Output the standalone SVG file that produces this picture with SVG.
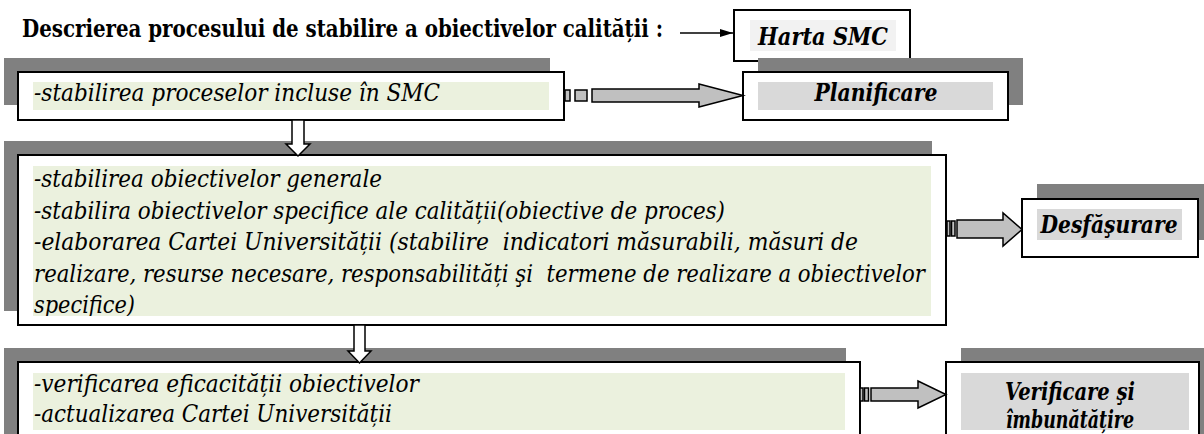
<svg xmlns="http://www.w3.org/2000/svg" width="1204" height="434" viewBox="0 0 1204 434">
<style>
.title{font-family:'DejaVu Serif Condensed','DejaVu Serif',serif;font-stretch:condensed;font-weight:bold;font-size:24px;fill:#000}
.it{font-family:'DejaVu Serif Condensed','DejaVu Serif',serif;font-stretch:condensed;font-style:italic;font-size:24.5px;fill:#000;white-space:pre}
.lbl{font-family:'DejaVu Serif Condensed','DejaVu Serif',serif;font-stretch:condensed;font-style:italic;font-weight:bold;font-size:24.5px;fill:#000;text-anchor:middle}
.shadow{fill:#808080}
.box{fill:#fff;stroke:#000;stroke-width:2}
.green{fill:#ebf1de}
.hl{fill:#d9d9d9}
.hl2{fill:#f2f2f2}
.blk{fill:#c0c0c0;stroke:#000;stroke-width:1.5;stroke-linejoin:miter}
.dn{fill:#fff;stroke:#000;stroke-width:1.5}
</style>
<defs>
<marker id="ah" markerWidth="14" markerHeight="10" refX="13" refY="5" orient="auto" markerUnits="userSpaceOnUse">
<path d="M0,1 L13,5 L0,9 Z" fill="#000"/>
</marker>
<clipPath id="c2"><rect x="33" y="166" width="898" height="150"/></clipPath>
<clipPath id="c3"><rect x="33" y="373" width="812" height="57"/></clipPath>
</defs>
<rect width="1204" height="434" fill="#fff"/>

<g id="title">
<text class="title" x="22" y="37" textLength="641" lengthAdjust="spacingAndGlyphs">Descrierea procesului de stabilire a obiectivelor calității :</text>
</g>

<g id="harta">
<rect class="box" x="734" y="10" width="176" height="51"/>
<rect class="hl2" x="750" y="20" width="146" height="31"/>
<text class="lbl" x="823" y="45" textLength="130" lengthAdjust="spacingAndGlyphs">Harta SMC</text>
</g>

<g id="step1">
<rect class="shadow" x="4" y="58" width="546" height="47"/>
<rect class="box" x="18" y="72" width="546" height="48"/>
<rect class="green" x="33" y="82" width="516" height="28"/>
<text class="it" x="34" y="101" textLength="406" lengthAdjust="spacingAndGlyphs">-stabilirea proceselor incluse în SMC</text>
</g>

<g id="planificare">
<rect class="shadow" x="758" y="58" width="265" height="47"/>
<rect class="box" x="743" y="72" width="265" height="48"/>
<rect class="hl" x="758" y="82" width="235" height="28"/>
<text class="lbl" x="876" y="101" textLength="123" lengthAdjust="spacingAndGlyphs">Planificare</text>
</g>

<g id="step2">
<rect class="shadow" x="4" y="141" width="928" height="170"/>
<rect class="box" x="18" y="155" width="928" height="170"/>
<rect class="green" x="33" y="166" width="898" height="150"/>
<g clip-path="url(#c2)">
<text class="it" x="34" y="187" textLength="348" lengthAdjust="spacingAndGlyphs">-stabilirea obiectivelor generale</text>
<text class="it" x="34" y="218.5" textLength="691" lengthAdjust="spacingAndGlyphs">-stabilira obiectivelor specifice ale calității(obiective de proces)</text>
<text class="it" x="34" y="250" textLength="824" lengthAdjust="spacingAndGlyphs">-elaborarea Cartei Universității (stabilire  indicatori măsurabili, măsuri de</text>
<text class="it" x="34" y="281.5" textLength="891" lengthAdjust="spacingAndGlyphs">realizare, resurse necesare, responsabilități şi  termene de realizare a obiectivelor</text>
<text class="it" x="34" y="313" textLength="101" lengthAdjust="spacingAndGlyphs">specifice)</text>
</g>
</g>

<g id="desfasurare">
<rect class="shadow" x="1037" y="184" width="176" height="56"/>
<rect class="box" x="1022" y="199" width="176" height="58"/>
<rect class="hl" x="1037" y="209" width="145" height="31"/>
<text class="lbl" x="1109" y="233" textLength="137" lengthAdjust="spacingAndGlyphs">Desfăşurare</text>
</g>

<g id="step3">
<rect class="shadow" x="4" y="348" width="842" height="100"/>
<rect class="box" x="18" y="362" width="842" height="100"/>
<rect class="green" x="33" y="373" width="812" height="57"/>
<g clip-path="url(#c3)">
<text class="it" x="34" y="392" textLength="385" lengthAdjust="spacingAndGlyphs">-verificarea eficacității obiectivelor</text>
<text class="it" x="34" y="422" textLength="358" lengthAdjust="spacingAndGlyphs">-actualizarea Cartei Universității</text>
</g>
</g>

<g id="verificare">
<rect class="shadow" x="961" y="348" width="260" height="100"/>
<rect class="box" x="946" y="362" width="253" height="100"/>
<rect class="hl" x="961" y="373" width="228" height="57"/>
<text class="lbl" x="1070" y="400" textLength="130" lengthAdjust="spacingAndGlyphs">Verificare şi</text>
<text class="lbl" x="1070" y="428" textLength="128" lengthAdjust="spacingAndGlyphs">îmbunătățire</text>
</g>

<g id="connectors">
<line x1="680" y1="33" x2="733" y2="33" stroke="#000" stroke-width="1.5" marker-end="url(#ah)"/>
<rect class="blk" x="565" y="90" width="5" height="11"/>
<rect class="blk" x="575" y="90" width="12" height="11"/>
<path class="blk" d="M592,89 L699,89 L699,84 L743,95.5 L699,107 L699,102 L592,102 Z"/>
<path class="dn" d="M292,120 L304,120 L304,144 L310,144 L298,156 L286,144 L292,144 Z"/>
<rect class="blk" x="947" y="221" width="3" height="15"/>
<rect class="blk" x="951.5" y="221" width="3.5" height="15"/>
<path class="blk" d="M957,220 L1003,220 L1003,213 L1022,229.5 L1003,246 L1003,238 L957,238 Z"/>
<path class="dn" d="M354,325 L365,325 L365,351 L371,351 L359.5,363 L348,351 L354,351 Z"/>
<rect class="blk" x="860" y="388" width="3" height="13"/>
<rect class="blk" x="864.5" y="388" width="4" height="13"/>
<path class="blk" d="M871,388 L918,388 L918,381 L946,394.5 L918,408 L918,401 L871,401 Z"/>
</g>
</svg>
